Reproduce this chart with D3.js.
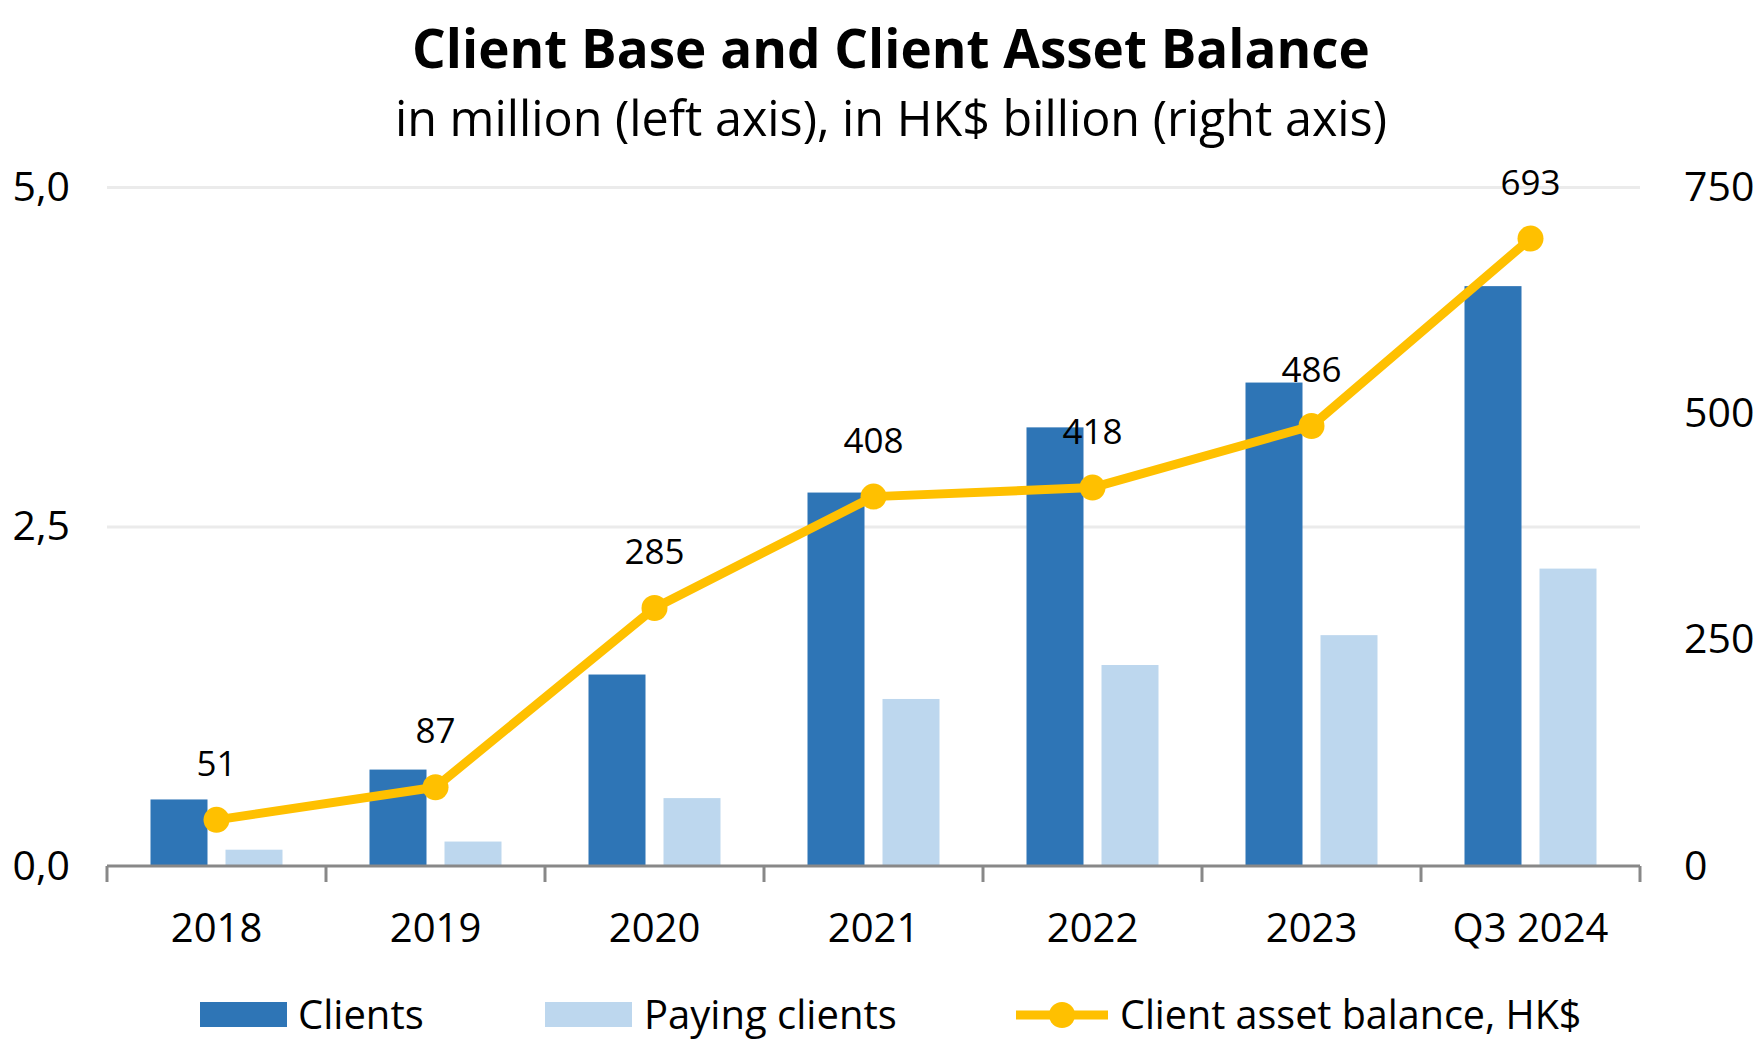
<!DOCTYPE html>
<html>
<head>
<meta charset="utf-8">
<script src="https://cdn.jsdelivr.net/npm/d3@7"></script>
<style>
  body { margin: 0; background: #fff; }
  text { font-family: "Open Sans", sans-serif; fill: #000; }
</style>
</head>
<body>
<script>
"use strict";

(function() {

const width = 1760;
const height = 1056;

// data
const periods = ["2018", "2019", "2020", "2021", "2022", "2023", "Q3 2024"];
const clients = [0.49, 0.71, 1.41, 2.75, 3.23, 3.56, 4.27];
const payingClients = [0.12, 0.18, 0.50, 1.23, 1.48, 1.70, 2.19];
const assetBalance = [51, 87, 285, 408, 418, 486, 693];
const leftTicks = [0, 2.5, 5];
const rightTicks = [0, 250, 500, 750];

const plot = {left: 107, right: 1640, top: 187, bottom: 866};

let svg = d3.select("body").append("svg")
    .attr("width", width)
    .attr("height", height);

let x = d3.scaleBand()
    .domain(periods)
    .range([plot.left, plot.right]);

let inner = d3.scaleBand()
    .domain(["clients", "paying"])
    .range([0, x.bandwidth()])
    .paddingInner(0.24)
    .paddingOuter(0.58);

let yLeft = d3.scaleLinear().domain([0, 5]).range([plot.bottom, plot.top]);
let yRight = d3.scaleLinear().domain([0, 750]).range([plot.bottom, plot.top]);

let comma = d3.formatLocale({decimal: ",", thousands: ".", grouping: [3], currency: ["", ""]});

// gridlines
svg.append("g")
    .attr("transform", `translate(${plot.left},0)`)
    .call(d3.axisLeft(yLeft).tickValues(leftTicks.slice(1)).tickSize(-(plot.right - plot.left)).tickFormat(""))
    .call(g => g.select(".domain").remove())
    .call(g => g.selectAll("line").attr("stroke", "#ebebeb").attr("stroke-width", 3));

// left axis labels
svg.append("g")
    .attr("transform", "translate(70,0)")
    .call(d3.axisLeft(yLeft).tickValues(leftTicks).tickSize(0).tickPadding(0).tickFormat(comma.format(".1f")))
    .call(g => g.select(".domain").remove())
    .call(g => g.selectAll("text").attr("font-size", 41).attr("font-family", "Open Sans").attr("fill", "#000"));

// right axis labels
svg.append("g")
    .attr("transform", "translate(1684,0)")
    .call(d3.axisRight(yRight).tickValues(rightTicks).tickSize(0).tickPadding(0))
    .call(g => g.select(".domain").remove())
    .call(g => g.selectAll("text").attr("font-size", 41).attr("font-family", "Open Sans").attr("fill", "#000"));

// bars
let groups = svg.append("g").selectAll("g")
    .data(periods)
    .enter().append("g")
    .attr("transform", d => `translate(${x(d)},0)`);

groups.append("rect")
    .attr("x", inner("clients"))
    .attr("width", inner.bandwidth())
    .attr("y", (d, i) => yLeft(clients[i]))
    .attr("height", (d, i) => yLeft(0) - yLeft(clients[i]))
    .attr("fill", "#2e75b6");

groups.append("rect")
    .attr("x", inner("paying"))
    .attr("width", inner.bandwidth())
    .attr("y", (d, i) => yLeft(payingClients[i]))
    .attr("height", (d, i) => yLeft(0) - yLeft(payingClients[i]))
    .attr("fill", "#bdd7ee");

// x axis
let xAxis = svg.append("g")
    .attr("transform", `translate(0,${plot.bottom})`)
    .call(d3.axisBottom(x).tickSize(0).tickPadding(0))
    .call(g => g.select(".domain").remove());

xAxis.selectAll("text")
    .attr("font-size", 40)
    .attr("font-family", "Open Sans")
    .attr("fill", "#000")
    .attr("dy", null)
    .attr("y", 76);

xAxis.append("line")
    .attr("x1", plot.left).attr("x2", plot.right)
    .attr("stroke", "#888").attr("stroke-width", 3);

xAxis.selectAll(".sep")
    .data(d3.range(periods.length + 1))
    .enter().append("line")
    .attr("class", "sep")
    .attr("x1", i => plot.left + i * x.step())
    .attr("x2", i => plot.left + i * x.step())
    .attr("y1", 0).attr("y2", 16)
    .attr("stroke", "#888").attr("stroke-width", 3);

// asset balance line
let cx = d => x(d) + x.bandwidth() / 2;

let line = d3.line()
    .x(d => cx(d))
    .y((d, i) => yRight(assetBalance[i]));

svg.append("path")
    .datum(periods)
    .attr("d", line)
    .attr("fill", "none")
    .attr("stroke", "#ffc000")
    .attr("stroke-width", 9)
    .attr("stroke-linejoin", "round");

svg.append("g").selectAll("circle")
    .data(periods)
    .enter().append("circle")
    .attr("cx", cx)
    .attr("cy", (d, i) => yRight(assetBalance[i]))
    .attr("r", 13)
    .attr("fill", "#ffc000");

svg.append("g").selectAll("text")
    .data(periods)
    .enter().append("text")
    .attr("x", cx)
    .attr("y", (d, i) => yRight(assetBalance[i]) - 44)
    .attr("text-anchor", "middle")
    .attr("font-size", 35)
    .text((d, i) => assetBalance[i]);

// titles
svg.append("text")
    .attr("x", 891).attr("y", 68)
    .attr("text-anchor", "middle")
    .attr("font-size", 53)
    .attr("font-weight", 700)
    .text("Client Base and Client Asset Balance");

svg.append("text")
    .attr("x", 891).attr("y", 136)
    .attr("text-anchor", "middle")
    .attr("font-size", 48.5)
    .text("in million (left axis), in HK$ billion (right axis)");

// legend
let legend = svg.append("g");

legend.append("rect").attr("x", 200).attr("y", 1002).attr("width", 87).attr("height", 25).attr("fill", "#2e75b6");
legend.append("text").attr("x", 298).attr("y", 1029).attr("font-size", 40).text("Clients");

legend.append("rect").attr("x", 545).attr("y", 1002).attr("width", 87).attr("height", 25).attr("fill", "#bdd7ee");
legend.append("text").attr("x", 644).attr("y", 1029).attr("font-size", 40).text("Paying clients");

legend.append("line").attr("x1", 1016).attr("x2", 1108).attr("y1", 1015).attr("y2", 1015)
    .attr("stroke", "#ffc000").attr("stroke-width", 9);
legend.append("circle").attr("cx", 1062).attr("cy", 1015).attr("r", 13).attr("fill", "#ffc000");
legend.append("text").attr("x", 1120).attr("y", 1029).attr("font-size", 39.5).text("Client asset balance, HK$");

})();
</script>
</body>
</html>
